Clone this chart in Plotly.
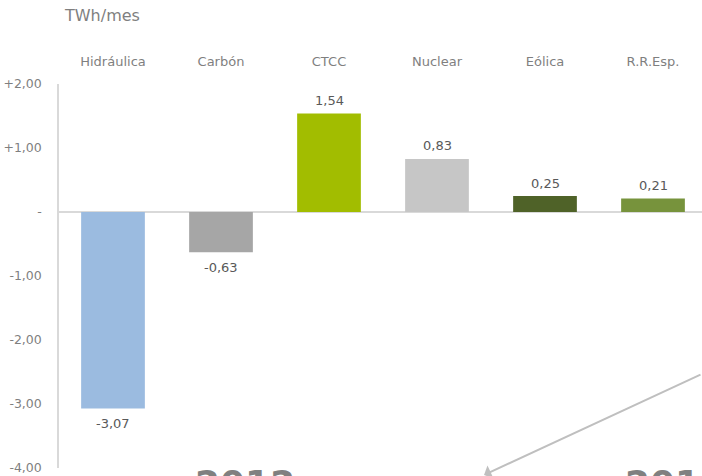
import plotly.graph_objects as go

# variacion mensual por tecnologia, TWh/mes
categories = ['Hidráulica', 'Carbón', 'CTCC', 'Nuclear', 'Eólica', 'R.R.Esp.']
values = [-3.07, -0.63, 1.54, 0.83, 0.25, 0.21]
bar_colors = ['#9bbbe0', '#a6a6a6', '#a2bd00', '#c6c6c6', '#4f6228', '#77933c']

y_ticks = [2, 1, 0, -1, -2, -3, -4]
y_ticktext = ['+2,00', '+1,00', '-', '-1,00', '-2,00', '-3,00', '-4,00']

labels = [f'{v:.2f}'.replace('.', ',') for v in values]

W, H = 702, 476
left, top, bottom, right = 59, 84, H - 468, 0
plot_w = W - left - right
plot_h = H - top - bottom


def px_x(px):
    # pixel -> coordenada paper
    return (px - left) / plot_w


def px_y(py):
    return (H - bottom - py) / plot_h


fig = go.Figure(go.Bar(
    x=categories,
    y=values,
    marker=dict(color=bar_colors, line=dict(width=0)),
    showlegend=False,
    hoverinfo='skip',
))

# etiquetas de valor encima / debajo de cada barra
for cat, v, lab in zip(categories, values, labels):
    fig.add_annotation(
        x=cat, y=v, text=lab, showarrow=False,
        yanchor='middle', yshift=13 if v >= 0 else -15,
        font=dict(size=13, color='#595959'),
    )

fig.update_layout(
    width=W, height=H,
    margin=dict(l=left, r=right, t=top, b=bottom, autoexpand=False),
    paper_bgcolor='white',
    plot_bgcolor='white',
    font=dict(family='DejaVu Sans', color='#7f7f7f'),
    bargap=0.41,
    xaxis=dict(
        side='top', automargin=False,
        range=[-0.5, -0.5 + plot_w / 108.0],
        showgrid=False, showline=False, zeroline=False,
        ticks='', ticklabelstandoff=14,
        tickfont=dict(size=13, color='#7f7f7f'),
    ),
    yaxis=dict(
        automargin=False,
        range=[-4, 2],
        tickvals=y_ticks, ticktext=y_ticktext,
        showgrid=False,
        showline=True, linecolor='#d9d9d9', linewidth=1.5,
        zeroline=True, zerolinecolor='#d9d9d9', zerolinewidth=2,
        ticks='', ticklabelstandoff=13,
        tickfont=dict(size=12.5, color='#7f7f7f'),
    ),
)

fig.add_annotation(
    text='TWh/mes', xref='paper', yref='paper',
    x=px_x(62), y=px_y(15), xanchor='left', yanchor='middle',
    showarrow=False, font=dict(size=16, color='#7f7f7f'),
)

# restos de la diapositiva que asoman por abajo
fig.add_annotation(
    text='<b>2012</b>', xref='paper', yref='paper',
    x=px_x(193), y=px_y(461),
    xanchor='left', yanchor='top', showarrow=False,
    font=dict(size=36, color='#808080'),
)
fig.add_annotation(
    text='<b>2013</b>', xref='paper', yref='paper',
    x=px_x(623), y=px_y(461),
    xanchor='left', yanchor='top', showarrow=False,
    font=dict(size=36, color='#808080'),
)
fig.add_annotation(
    text='', xref='paper', yref='paper',
    x=px_x(484), y=px_y(475),
    ax=220, ay=-101, showarrow=True,
    arrowhead=1, arrowsize=1.2, arrowwidth=2, arrowcolor='#bfbfbf',
)

fig.write_html('out.html', config={'displayModeBar': False},
               post_script="document.body.style.margin='0px';")
